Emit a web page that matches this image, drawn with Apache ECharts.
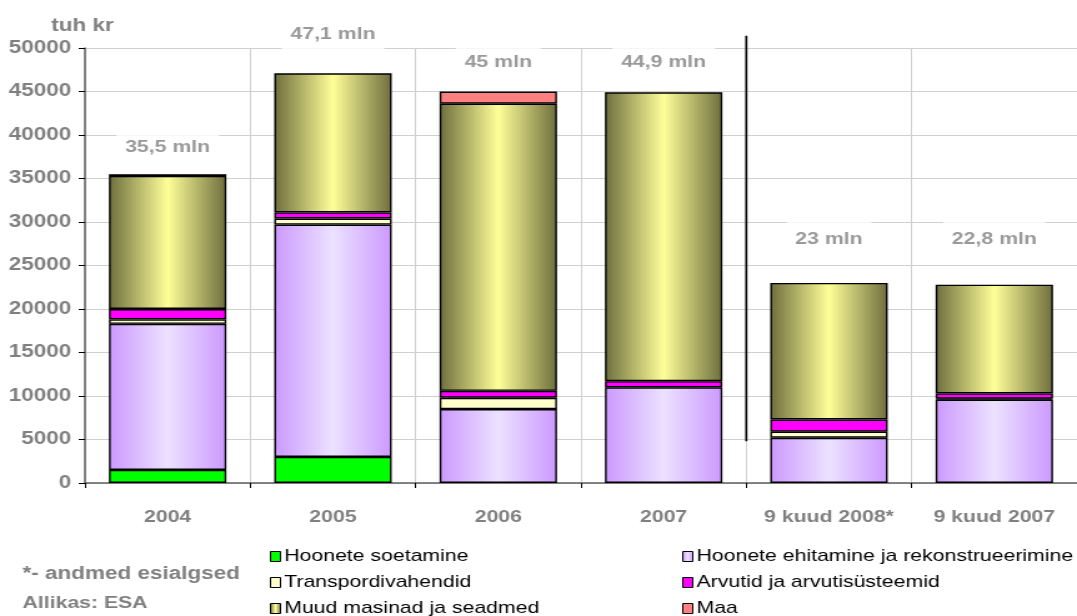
<!DOCTYPE html>
<html>
<head>
<meta charset="utf-8">
<script src="https://cdn.jsdelivr.net/npm/echarts@6/dist/echarts.min.js"></script>
<style>
  html, body { margin: 0; padding: 0; background: #fff; overflow: hidden; }
  /* Excel pilt on horisontaalselt venitatud, sama venitus siin */
  #chart { width: 862px; height: 616px; transform: scaleX(1.2494); transform-origin: 0 0; }
</style>
</head>
<body>
<div id="chart"></div>
<script>
// kategooriad ja väärtused (tuh kr)
const categories = ["2004", "2005", "2006", "2007", "9 kuud 2008*", "9 kuud 2007"];
const hooneteSoetamine = [1500, 3000, 0, 0, 0, 0];
const hooneteEhitamine = [16800, 26700, 8500, 11000, 5200, 9600];
const transport = [500, 700, 1300, 0, 700, 100];
const arvutid = [1200, 700, 800, 700, 1400, 600];
const muudMasinad = [15300, 16000, 33000, 33200, 15700, 12500];
const maa = [200, 0, 1400, 0, 0, 0];

// kogusummade sildid ja nende kõrgus (tuh kr)
const totalLabels = ["35,5 mln", "47,1 mln", "45 mln", "44,9 mln", "23 mln", "22,8 mln"];
const totalLabelLevel = [38600, 51600, 48300, 48300, 28000, 28000];

// eraldusjoon 2007 ja 9 kuu vahel
const separatorX = 4;
const separatorRange = [4800, 51400];

const gray = "#808080";
const font = "'Liberation Sans', Arial, sans-serif";

const hGrad = (edge, mid) =>
  new echarts.graphic.LinearGradient(0, 0, 1, 0, [
    { offset: 0, color: edge },
    { offset: 0.5, color: mid },
    { offset: 1, color: edge },
  ]);

const noZero = (arr) => arr.map((v) => (v === 0 ? "-" : v));

const barSeries = (name, data, color) => ({
  name: name,
  type: "bar",
  stack: "total",
  barWidth: "71%",
  data: noZero(data),
  itemStyle: { color: color, borderColor: "#000", borderWidth: 1.4 },
  emphasis: { disabled: true },
});

const legendBase = {
  orient: "vertical",
  top: 543,
  height: 200,
  itemGap: 9,
  itemWidth: 8,
  itemHeight: 10,
  icon: "rect",
  itemStyle: { borderColor: "#000", borderWidth: 1 },
  textStyle: { fontFamily: font, fontSize: 17, color: "#000", padding: [0, 0, 0, -2] },
};

const chart = echarts.init(document.getElementById("chart"));

const option = {
  animation: false,
  backgroundColor: "#fff",
  title: {
    text: "tuh kr",
    left: 36,
    top: 12,
    textStyle: { fontFamily: font, fontSize: 18, fontWeight: "bold", color: gray },
  },
  grid: { left: 68, right: -8, top: 48, bottom: 133 },
  xAxis: [
    {
      type: "category",
      data: categories,
      axisLine: { lineStyle: { color: "#606060", width: 1.5 } },
      axisTick: { show: true, interval: 0, length: 5, lineStyle: { color: "#000" } },
      axisLabel: {
        interval: 0,
        margin: 26,
        fontFamily: font,
        fontSize: 17,
        fontWeight: "bold",
        color: gray,
      },
      splitLine: { show: true, interval: 0, lineStyle: { color: "#d0d0d0", width: 1 } },
    },
    {
      type: "value",
      min: 0,
      max: 6,
      show: false,
    },
  ],
  yAxis: {
    type: "value",
    min: 0,
    max: 50000,
    interval: 5000,
    axisLine: { show: true, lineStyle: { color: "#606060", width: 1.5 } },
    axisTick: { show: true, length: 5, lineStyle: { color: "#000" } },
    axisLabel: {
      margin: 11,
      fontFamily: font,
      fontSize: 18,
      fontWeight: "bold",
      color: gray,
      formatter: (v) => String(v),
    },
    splitLine: { lineStyle: { color: "#d0d0d0", width: 1 } },
  },
  legend: [
    Object.assign({}, legendBase, {
      left: 211,
      data: ["Hoonete soetamine", "Transpordivahendid", "Muud masinad ja seadmed"],
    }),
    Object.assign({}, legendBase, {
      left: 541,
      data: ["Hoonete ehitamine ja rekonstrueerimine", "Arvutid ja arvutisüsteemid", "Maa"],
    }),
  ],
  graphic: [
    {
      type: "text",
      left: 18,
      top: 565,
      style: { text: "*- andmed esialgsed", font: "bold 18px " + font, fill: gray },
    },
    {
      type: "text",
      left: 18,
      top: 595,
      style: { text: "Allikas: ESA", font: "bold 17px " + font, fill: gray },
    },
  ],
  series: [
    barSeries("Hoonete soetamine", hooneteSoetamine, "#00ff00"),
    barSeries("Hoonete ehitamine ja rekonstrueerimine", hooneteEhitamine, hGrad("#cc99ff", "#ece2ff")),
    barSeries("Transpordivahendid", transport, "#ffffcc"),
    barSeries("Arvutid ja arvutisüsteemid", arvutid, "#ff00ff"),
    barSeries("Muud masinad ja seadmed", muudMasinad, hGrad("#6e6e3e", "#ffff99")),
    barSeries("Maa", maa, "#ff8080"),
    {
      name: "summa",
      type: "scatter",
      data: totalLabelLevel,
      symbolSize: 0,
      clip: false,
      silent: true,
      z: 5,
      label: {
        show: true,
        position: "inside",
        formatter: (p) => totalLabels[p.dataIndex],
        fontFamily: font,
        fontSize: 17,
        fontWeight: "bold",
        color: gray,
        backgroundColor: "#fff",
        padding: [13, 7, 13, 7],
      },
    },
    {
      name: "eraldaja",
      type: "line",
      xAxisIndex: 1,
      data: separatorRange.map((v) => [separatorX, v]),
      symbol: "none",
      clip: false,
      silent: true,
      lineStyle: { color: "#000", width: 1.7 },
      z: 6,
    },
  ],
};

chart.setOption(option);
</script>
</body>
</html>
